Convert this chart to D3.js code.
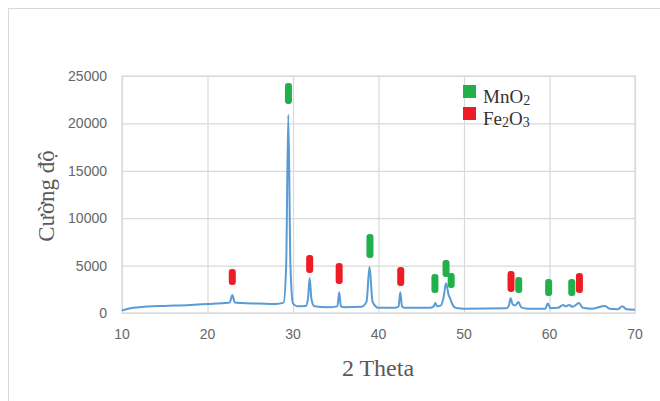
<!DOCTYPE html>
<html>
<head>
<meta charset="utf-8">
<script src="https://d3js.org/d3.v7.min.js"></script>
<style>
    body { margin: 0; background: #ffffff; }
</style>
</head>
<body>
<div id="chart"></div>
<script>

// diffraction pattern (2 theta, intensity)
let twoTheta = [10.0, 10.5, 11, 12, 13, 15, 18, 20, 22, 22.6, 22.9, 23.2, 24, 26, 28, 28.9, 29.2, 29.45, 29.7, 30.0,
    30.5, 31.5, 31.75, 31.95, 32.15, 32.5, 34, 35.2, 35.4, 35.6, 36, 38, 38.6, 38.95, 39.3, 39.8, 40, 42, 42.35, 42.55,
    42.75, 43, 46, 46.45, 46.65, 46.85, 47.3, 47.6, 47.9, 48.2, 48.4, 48.6, 48.9, 49.3, 50, 55.0, 55.25, 55.45, 55.7, 56.0,
    56.35, 56.7, 57.5, 59.5, 59.8, 60.1, 61.0, 61.6, 61.9, 62.3, 62.7, 63.45, 63.9, 65, 66.5, 67, 68, 68.5, 69, 70];
let intensity = [250, 400, 500, 600, 680, 750, 850, 950, 1050, 1100, 1900, 1100, 1050, 1000, 950, 1100, 5000, 20900, 5000, 1000,
    700, 750, 1500, 3700, 1500, 700, 600, 700, 2200, 700, 600, 650, 1200, 4850, 1200, 600, 550, 550, 700, 2200,
    700, 550, 550, 700, 1050, 700, 800, 1600, 3150, 1900, 1500, 1000, 600, 500, 450, 500, 800, 1550, 900, 800,
    1150, 600, 450, 450, 1000, 500, 550, 850, 700, 850, 650, 1050, 550, 450, 750, 450, 400, 700, 400, 350];

// phase markers: position, bottom and top of each mark
let mnO2Pos = [29.47, 39.0, 46.6, 47.9, 48.5, 56.4, 59.9, 62.6];
let mnO2Low = [22050, 5800, 2110, 3800, 2640, 2110, 1790, 1790];
let mnO2High = [24270, 8330, 4110, 5590, 4220, 3800, 3590, 3590];

let fe2O3Pos = [22.9, 31.95, 35.4, 42.6, 55.5, 63.5];
let fe2O3Low = [2950, 4220, 3060, 2850, 2220, 2110];
let fe2O3High = [4640, 6120, 5280, 4850, 4430, 4220];

let xTicks = [10, 20, 30, 40, 50, 60, 70];
let yTicks = [0, 5000, 10000, 15000, 20000, 25000];

let width = 660,
    height = 401;
let margin = {top: 76, right: 25, bottom: 88, left: 122};

let green = "#22b04b",
    red = "#ee1d25",
    blue = "#5b9bd5",
    grid = "#d9d9d9";

let svg = d3.select("#chart")
    .append("svg")
    .attr("width", width)
    .attr("height", height);

// outer frame of the chart
svg.append("rect")
    .attr("x", 8.5)
    .attr("y", 8.5)
    .attr("width", 700)
    .attr("height", 500)
    .attr("fill", "none")
    .attr("stroke", grid);

let x = d3.scaleLinear()
    .domain([10, 70])
    .range([margin.left, width - margin.right]);

let y = d3.scaleLinear()
    .domain([0, 25000])
    .range([height - margin.bottom, margin.top]);

// gridlines
svg.append("g")
    .attr("transform", "translate(0," + (height - margin.bottom) + ")")
    .call(d3.axisBottom(x).tickValues(xTicks).tickSize(-(height - margin.bottom - margin.top)).tickFormat(""))
    .call(g => g.select(".domain").remove())
    .call(g => g.selectAll("line").attr("stroke", grid).attr("stroke-width", 1.2));

svg.append("g")
    .attr("transform", "translate(" + margin.left + ",0)")
    .call(d3.axisLeft(y).tickValues(yTicks).tickSize(-(width - margin.left - margin.right)).tickFormat(""))
    .call(g => g.select(".domain").remove())
    .call(g => g.selectAll("line").attr("stroke", grid).attr("stroke-width", 1.2));

svg.append("rect")
    .attr("x", margin.left)
    .attr("y", margin.top)
    .attr("width", width - margin.left - margin.right)
    .attr("height", height - margin.top - margin.bottom)
    .attr("fill", "none")
    .attr("stroke", grid)
    .attr("stroke-width", 1.2);

// tick labels
svg.selectAll("xLabels")
    .data(xTicks)
    .enter()
    .append("text")
    .attr("x", d => x(d))
    .attr("y", height - margin.bottom + 26)
    .attr("text-anchor", "middle")
    .style("font-family", "Liberation Sans, Arial, sans-serif")
    .style("font-size", "14px")
    .attr("fill", "#666666")
    .text(d => d);

svg.selectAll("yLabels")
    .data(yTicks)
    .enter()
    .append("text")
    .attr("x", margin.left - 15)
    .attr("y", d => y(d))
    .attr("dy", "0.35em")
    .attr("text-anchor", "end")
    .style("font-family", "Liberation Sans, Arial, sans-serif")
    .style("font-size", "14px")
    .attr("fill", "#666666")
    .text(d => d);

// axis titles
svg.append("text")
    .attr("transform", "translate(54,196) rotate(-90)")
    .attr("text-anchor", "middle")
    .style("font-family", "Liberation Serif, Times New Roman, serif")
    .style("font-size", "23px")
    .attr("fill", "#595959")
    .text("Cường độ");

svg.append("text")
    .attr("x", 378)
    .attr("y", 376)
    .attr("text-anchor", "middle")
    .style("font-family", "Liberation Serif, Times New Roman, serif")
    .style("font-size", "24px")
    .attr("fill", "#595959")
    .text("2 Theta");

// the pattern
let points = twoTheta.map((t, i) => [t, intensity[i]]);

let line = d3.line()
    .x(d => x(d[0]))
    .y(d => y(d[1]))
    .curve(d3.curveMonotoneX);

svg.append("path")
    .datum(points)
    .attr("d", line)
    .attr("fill", "none")
    .attr("stroke", blue)
    .attr("stroke-width", 2)
    .attr("stroke-linejoin", "round");

// phase marks
function drawMarks(pos, low, high, color) {
    svg.selectAll("marks")
        .data(pos)
        .enter()
        .append("rect")
        .attr("x", d => x(d) - 3.5)
        .attr("y", (d, i) => y(high[i]))
        .attr("width", 7)
        .attr("height", (d, i) => y(low[i]) - y(high[i]))
        .attr("rx", 3)
        .attr("fill", color);
}
drawMarks(mnO2Pos, mnO2Low, mnO2High, green);
drawMarks(fe2O3Pos, fe2O3Low, fe2O3High, red);

// legend
let legend = [
    {color: green, parts: [["MnO", 0], ["2", 1]]},
    {color: red, parts: [["Fe", 0], ["2", 1], ["O", 0], ["3", 1]]}
];

legend.forEach(function(item, i) {
    svg.append("rect")
        .attr("x", 463)
        .attr("y", 85 + i * 22)
        .attr("width", 13)
        .attr("height", 13)
        .attr("fill", item.color);

    let txt = svg.append("text")
        .attr("x", 483)
        .attr("y", 103 + i * 22)
        .style("font-family", "Liberation Serif, Times New Roman, serif")
        .style("font-size", "19px")
        .attr("fill", "#333333");

    let low = false;
    item.parts.forEach(function(p) {
        let span = txt.append("tspan").text(p[0]);
        if (p[1] && !low) { span.attr("dy", 2).style("font-size", "14px"); low = true; }
        else if (p[1]) { span.style("font-size", "14px"); }
        else if (low) { span.attr("dy", -2); low = false; }
    });
});

</script>
</body>
</html>
